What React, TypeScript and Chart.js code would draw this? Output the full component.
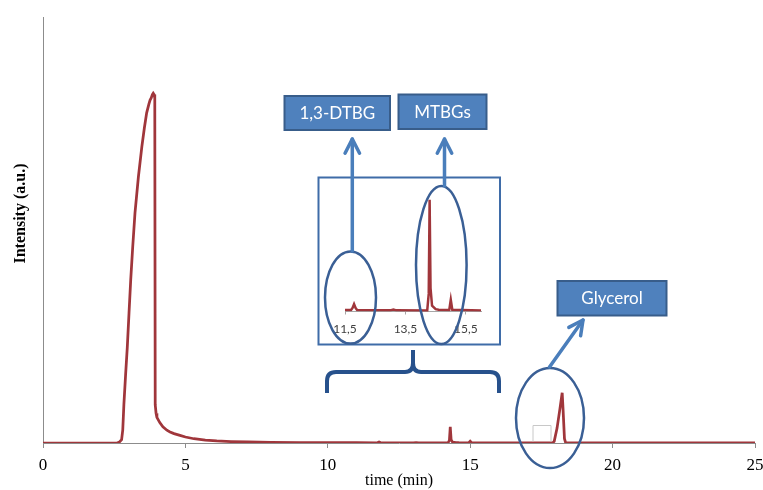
import React, { useEffect, useRef } from "react";
import { Chart, registerables } from "chart.js";
Chart.register(...registerables);

// ---- data (time in min, intensity in a.u.) ----
const timeMin = [
  0, 2.0, 2.6, 2.68, 2.76, 2.8, 2.84, 2.9, 2.96, 3.02, 3.08, 3.15, 3.23, 3.35, 3.47, 3.56, 3.64, 3.72,
  3.76, 3.8, 3.84, 3.87, 3.9, 3.925, 3.94, 3.97, 4.0, 4.1, 4.21, 4.35, 4.46, 4.6, 4.81, 5.0, 5.3, 5.7,
  6.1, 6.6, 7.2, 8.0, 9.0, 10.0, 11.0, 11.7, 11.75, 11.8, 11.85, 11.9, 13.0, 13.1, 13.2, 14.22, 14.27,
  14.3, 14.33, 14.38, 14.5, 14.6, 14.95, 15.0, 15.05, 16.0, 17.0, 17.9, 17.95, 18.05, 18.15,
  18.23, 18.26, 18.31, 18.35, 18.45, 20.0, 22.0, 25.0,
];
const intensity = [
  0, 0, 0, 0.2, 0.8, 3, 9, 16, 22.5, 30.5, 38.3, 46, 54, 62.5, 69.5, 74, 77.5, 79.6,
  80.5, 81, 81.8, 82.1, 81.8, 81, 9, 7, 6.0, 4.8, 3.8, 3.0, 2.6, 2.2, 1.8, 1.4, 1.0, 0.7,
  0.5, 0.35, 0.25, 0.16, 0.1, 0.08, 0.06, 0.05, 0.12, 0.25, 0.12, 0.05, 0.04, 0.07, 0.04, 0.03, 0.6,
  3.8, 0.8, 0.2, 0.08, 0.06, 0.05, 0.4, 0.06, 0.03, 0.02, 0.03, 0.4, 3.5, 8,
  11.8, 8, 1, 0.1, 0.05, 0.03, 0.03, 0.03,
];
const mainTicks = [0, 5, 10, 15, 20, 25];
const insetTicks = [11.5, 13.5, 15.5];
const peakLabels = ["1,3-DTBG", "MTBGs", "Glycerol"];
const xTitle = "time (min)";
const yTitle = "Intensity (a.u.)";

// ---- styles ----
const LINE = "#A0363B";
const AXIS = "#8C8C8C";
const ELLIPSE = "#3A5F95";
const BOX_FILL = "#4F81BD";
const BOX_STROKE = "#385D8A";
const ARROW = "#4A7EBB";
const BRACE = "#27518C";
const INSET_BOX = "#3F6CA8";

const W = 763;
const H = 490;

const points = timeMin.map((t, i) => ({ x: t, y: intensity[i] }));

function drawArrow(ctx: CanvasRenderingContext2D, x0: number, y0: number, x1: number, y1: number) {
  ctx.save();
  ctx.strokeStyle = ARROW;
  ctx.lineWidth = 3.5;
  ctx.lineCap = "round";
  ctx.lineJoin = "round";
  ctx.beginPath();
  ctx.moveTo(x0, y0);
  ctx.lineTo(x1, y1);
  ctx.stroke();
  const ang = Math.atan2(y1 - y0, x1 - x0);
  const len = 16;
  const spread = 0.47;
  ctx.beginPath();
  ctx.moveTo(x1 - len * Math.cos(ang - spread), y1 - len * Math.sin(ang - spread));
  ctx.lineTo(x1, y1);
  ctx.lineTo(x1 - len * Math.cos(ang + spread), y1 - len * Math.sin(ang + spread));
  ctx.stroke();
  ctx.restore();
}

function drawEllipse(ctx: CanvasRenderingContext2D, cx: number, cy: number, rx: number, ry: number) {
  ctx.save();
  ctx.strokeStyle = ELLIPSE;
  ctx.lineWidth = 2.5;
  ctx.beginPath();
  ctx.ellipse(cx, cy, rx, ry, 0, 0, Math.PI * 2);
  ctx.stroke();
  ctx.restore();
}

function drawLabelBox(ctx: CanvasRenderingContext2D, x0: number, y0: number, x1: number, y1: number, text: string) {
  ctx.save();
  ctx.fillStyle = BOX_FILL;
  ctx.strokeStyle = BOX_STROKE;
  ctx.lineWidth = 2;
  ctx.fillRect(x0, y0, x1 - x0, y1 - y0);
  ctx.strokeRect(x0, y0, x1 - x0, y1 - y0);
  ctx.fillStyle = "#FFFFFF";
  ctx.font = '17px Lato, "Open Sans", sans-serif';
  ctx.textAlign = "center";
  ctx.textBaseline = "middle";
  ctx.fillText(text, (x0 + x1) / 2, (y0 + y1) / 2 + 0.5);
  ctx.restore();
}

function drawBrace(ctx: CanvasRenderingContext2D) {
  ctx.save();
  ctx.strokeStyle = BRACE;
  ctx.lineWidth = 4;
  ctx.lineCap = "butt";
  ctx.lineJoin = "round";
  ctx.beginPath();
  ctx.moveTo(327, 393);
  ctx.lineTo(327, 381);
  ctx.quadraticCurveTo(327, 372, 336, 372);
  ctx.lineTo(405, 372);
  ctx.quadraticCurveTo(413, 372, 413, 363);
  ctx.lineTo(413, 350);
  ctx.moveTo(413, 363);
  ctx.quadraticCurveTo(413, 372, 421, 372);
  ctx.lineTo(490, 372);
  ctx.quadraticCurveTo(499, 372, 499, 381);
  ctx.lineTo(499, 393);
  ctx.stroke();
  ctx.restore();
}

const insetBoxPlugin = {
  id: "insetBox",
  beforeDraw(chart: any) {
    const ctx = chart.ctx as CanvasRenderingContext2D;
    ctx.save();
    ctx.fillStyle = "#FFFFFF";
    ctx.strokeStyle = INSET_BOX;
    ctx.lineWidth = 2;
    ctx.fillRect(318.5, 177.5, 181.5, 167);
    ctx.strokeRect(318.5, 177.5, 181.5, 167);
    ctx.restore();
  },
  afterDraw(chart: any) {
    const ctx = chart.ctx as CanvasRenderingContext2D;
    // ellipses
    drawEllipse(ctx, 350.5, 297.5, 25.5, 46);
    drawEllipse(ctx, 441.3, 265, 25.3, 79);
    drawEllipse(ctx, 550, 418, 34, 50);
    // arrows
    drawArrow(ctx, 352.3, 251, 352.3, 139);
    drawArrow(ctx, 444.5, 186, 444.5, 139);
    drawArrow(ctx, 549.5, 367, 583, 320);
    // label boxes
    drawLabelBox(ctx, 284.5, 96, 390, 130, peakLabels[0]);
    drawLabelBox(ctx, 398.5, 94.5, 486.5, 129, peakLabels[1]);
    drawLabelBox(ctx, 557.5, 281, 666.5, 315.5, peakLabels[2]);
    // brace
    drawBrace(ctx);
    // small empty grey square near glycerol peak
    ctx.save();
    ctx.strokeStyle = "#C8C8C8";
    ctx.lineWidth = 1;
    ctx.beginPath();
    ctx.moveTo(533, 441.5);
    ctx.lineTo(533, 425.5);
    ctx.lineTo(551, 425.5);
    ctx.lineTo(551, 441.5);
    ctx.stroke();
    ctx.restore();
  },
};

const yTitlePlugin = {
  id: "yTitle",
  afterDraw(chart: any) {
    const ctx = chart.ctx as CanvasRenderingContext2D;
    ctx.save();
    ctx.translate(21, 213.5);
    ctx.rotate(-Math.PI / 2);
    ctx.font = 'bold 16px "Liberation Serif", "Times New Roman", serif';
    ctx.fillStyle = "#000000";
    ctx.textAlign = "center";
    ctx.textBaseline = "middle";
    ctx.fillText(yTitle, 0, 0);
    ctx.restore();
  },
};

export default function App() {
  const mainRef = useRef<HTMLCanvasElement>(null);
  const insetRef = useRef<HTMLCanvasElement>(null);

  useEffect(() => {
    const main = new Chart(mainRef.current!, {
      type: "line",
      data: {
        datasets: [
          {
            data: points,
            borderColor: LINE,
            borderWidth: 2.75,
            pointRadius: 0,
            tension: 0,
            fill: false,
          },
        ],
      },
      options: {
        animation: false,
        responsive: false,
        devicePixelRatio: 1,
        parsing: false as any,
        layout: { padding: { left: 0, top: 17, right: 8, bottom: 0 } },
        plugins: { legend: { display: false }, tooltip: { enabled: false } },
        scales: {
          x: {
            type: "linear",
            min: 0,
            max: 25,
            afterBuildTicks: (s: any) => {
              s.ticks = mainTicks.map((v) => ({ value: v }));
            },
            afterFit: (s: any) => {
              s.height = 47;
              s.paddingRight = 0;
              s.paddingLeft = 0;
            },
            grid: { drawOnChartArea: false, drawTicks: true, tickLength: 5, color: AXIS },
            border: { display: true, color: AXIS, width: 1 },
            ticks: {
              padding: 7,
              color: "#000000",
              font: { family: '"Liberation Serif", "Times New Roman", serif', size: 17 },
              maxRotation: 0,
            },
            title: {
              display: true,
              text: xTitle,
              color: "#000000",
              padding: { top: 0, bottom: 0 },
              font: { family: '"Liberation Serif", "Times New Roman", serif', size: 16 },
            },
          },
          y: {
            type: "linear",
            min: 0,
            max: 100,
            afterFit: (s: any) => {
              s.width = 43;
            },
            grid: { drawOnChartArea: false, drawTicks: false, color: AXIS },
            border: { display: true, color: AXIS, width: 1 },
            ticks: { display: false },
          },
        },
      },
      plugins: [yTitlePlugin],
    });

    const inset = new Chart(insetRef.current!, {
      type: "line",
      data: {
        datasets: [
          {
            data: points,
            borderColor: LINE,
            borderWidth: 2.5,
            pointRadius: 0,
            tension: 0,
            fill: false,
          },
        ],
      },
      options: {
        animation: false,
        responsive: false,
        devicePixelRatio: 1,
        parsing: false as any,
        layout: { padding: { left: 345, top: 194, right: 282, bottom: 0 } },
        plugins: { legend: { display: false }, tooltip: { enabled: false } },
        scales: {
          x: {
            type: "linear",
            min: 11.5,
            max: 16,
            afterBuildTicks: (s: any) => {
              s.ticks = insetTicks.map((v) => ({ value: v }));
            },
            afterFit: (s: any) => {
              s.height = H - 311.5;
            },
            grid: { drawOnChartArea: false, drawTicks: true, tickLength: 3, color: "#A6A6A6" },
            border: { display: true, color: "#A6A6A6", width: 1 },
            ticks: {
              padding: 7,
              color: "#404040",
              maxRotation: 0,
              autoSkip: false,
              font: { family: 'Lato, "Open Sans", sans-serif', size: 12 },
              callback: (v: any) => Number(v).toFixed(1).replace(".", ","),
            },
          },
          y: {
            type: "linear",
            min: 0,
            max: 4,
            display: false,
          },
        },
      },
      plugins: [insetBoxPlugin],
    });

    return () => {
      main.destroy();
      inset.destroy();
    };
  }, []);

  return (
    <div style={{ position: "fixed", left: 0, top: 0, width: W, height: H, background: "#FFFFFF" }}>
      <canvas
        ref={mainRef}
        width={W}
        height={H}
        style={{ position: "absolute", left: 0, top: 0, width: W, height: H }}
      />
      <canvas
        ref={insetRef}
        width={W}
        height={H}
        style={{ position: "absolute", left: 0, top: 0, width: W, height: H, pointerEvents: "none" }}
      />
    </div>
  );
}
